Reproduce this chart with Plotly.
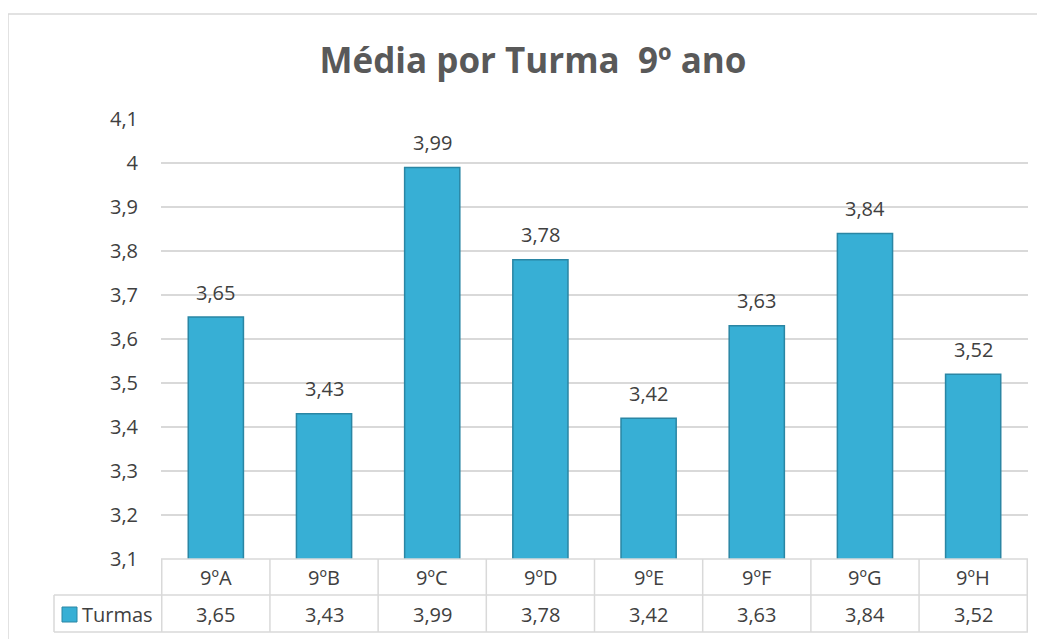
import plotly.graph_objects as go

turmas = ["9ºA", "9ºB", "9ºC", "9ºD", "9ºE", "9ºF", "9ºG", "9ºH"]
medias = [3.65, 3.43, 3.99, 3.78, 3.42, 3.63, 3.84, 3.52]
y_ticks = [3.1, 3.2, 3.3, 3.4, 3.5, 3.6, 3.7, 3.8, 3.9, 4.0, 4.1]
y_labels = ["3,1", "3,2", "3,3", "3,4", "3,5", "3,6", "3,7", "3,8", "3,9", "4", "4,1"]

# page body has an 8px margin, so work in screen px and shift
OFF = 8
W, H = 1045 - OFF, 639 - OFF
L, T = 161 - OFF, 119 - OFF
R = W - (1028 - OFF)
B = H - (559 - OFF)
pw, ph = W - L - R, H - T - B

def px_x(x):
    return (x - OFF - L) / pw

def px_y(y):
    return (H - B - (y - OFF)) / ph

txt = "#404040"
line_c = "#d9d9d9"
fnt = "Open Sans"

fig = go.Figure()
fig.add_trace(go.Bar(
    x=turmas, y=medias,
    marker=dict(color="#37afd5", line=dict(color="#2a86a4", width=1.5)),
    showlegend=False, hoverinfo="x+y",
))

shapes = []
# outer chart border
shapes.append(dict(type="rect", xref="paper", yref="paper",
                   x0=px_x(8), x1=px_x(1070), y0=px_y(680), y1=px_y(14),
                   line=dict(color=line_c, width=1.5), layer="below"))
# data table lines
for y in (595, 632):
    shapes.append(dict(type="line", xref="paper", yref="paper",
                       x0=px_x(54), x1=1, y0=px_y(y), y1=px_y(y),
                       line=dict(color=line_c, width=1.5)))
shapes.append(dict(type="line", xref="paper", yref="paper",
                   x0=0, x1=1, y0=0, y1=0, line=dict(color=line_c, width=1.5)))
shapes.append(dict(type="line", xref="paper", yref="paper",
                   x0=px_x(54), x1=px_x(54), y0=px_y(632), y1=px_y(595),
                   line=dict(color=line_c, width=1.5)))
for i in range(len(turmas) + 1):
    shapes.append(dict(type="line", xref="x", yref="paper",
                       x0=i - 0.5, x1=i - 0.5, y0=px_y(632), y1=0,
                       line=dict(color=line_c, width=1.5)))
# legend key
shapes.append(dict(type="rect", xref="paper", yref="paper",
                   x0=px_x(62), x1=px_x(77), y0=px_y(622), y1=px_y(607),
                   fillcolor="#37afd5", line=dict(color="#2a86a4", width=1)))

cell_font = dict(size=20, color=txt, family=fnt)
annotations = []
for t, v in zip(turmas, medias):
    lab = f"{v:.2f}".replace(".", ",")
    # value label above each bar
    annotations.append(dict(x=t, xref="x", y=v, yref="y", text=lab, yanchor="middle",
                            yshift=25, showarrow=False, font=cell_font))
    annotations.append(dict(x=t, xref="x", y=px_y(577), yref="paper", text=t, yanchor="middle",
                            showarrow=False, font=cell_font))
    annotations.append(dict(x=t, xref="x", y=px_y(614), yref="paper", text=lab, yanchor="middle",
                            showarrow=False, font=cell_font))
annotations.append(dict(x=px_x(80), xref="paper", y=px_y(614), yref="paper", text="Turmas",
                        xanchor="left", yanchor="middle", showarrow=False, font=cell_font))

fig.update_layout(
    width=W, height=H,
    margin=dict(l=L, r=R, t=T, b=B),
    paper_bgcolor="white", plot_bgcolor="white",
    separators=",.",
    title=dict(text="<b>Média por Turma  9º ano</b>", x=(533 - OFF) / W, xanchor="center",
               y=1 - (61 - OFF) / H, yanchor="middle",
               font=dict(size=35, color="#595959", family=fnt)),
    bargap=0.49,
    font=dict(family=fnt, color=txt),
    shapes=shapes, annotations=annotations,
)
fig.update_xaxes(showticklabels=False, showgrid=False, zeroline=False, showline=False)
fig.update_yaxes(range=[3.1, 4.1], tickvals=y_ticks, ticktext=y_labels,
                 showgrid=True, gridcolor=line_c, gridwidth=1.5, zeroline=False,
                 tickfont=cell_font, ticks="", ticklabelstandoff=22)

fig.write_html("out.html")
